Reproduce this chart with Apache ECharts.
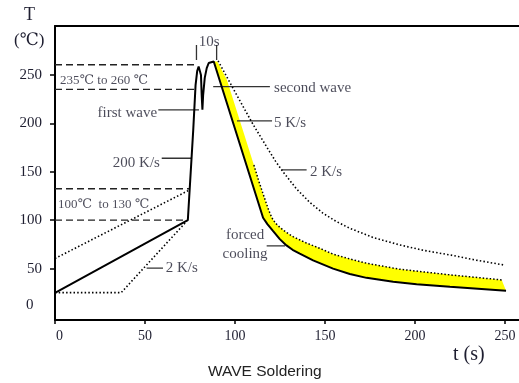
<!DOCTYPE html>
<html><head><meta charset="utf-8">
<script src="https://cdn.jsdelivr.net/npm/echarts@6/dist/echarts.min.js"></script>
<style>html,body{margin:0;padding:0;background:#fff}#c{width:519px;height:383px}</style>
</head><body><div id="c"></div>
<script>
// ---- data (t in s, T in °C) ----
const xTickValues = [0, 50, 100, 150, 200, 250];
const yTickValues = [50, 100, 150, 200, 250];

const heatingProfile = [[0,25],[73.8,100],[76.8,193],[78.1,239.5],[79.0,254],[79.8,258.7],[80.5,258.2],[81.1,250],[81.5,229],[81.9,214],[82.3,229],[83.2,247],[84.3,257],[85.4,262.3],[86.5,263.9]];
const coolingProfile = [[88.2,263.9],[115.6,102.5],[118,96],[121.1,89],[124.9,80.5],[128.6,74],[132,69.5],[136,65.5],[143.4,58.5],[154.5,50],[163.8,44.5],[173.1,40.5],[187.9,36.5],[200.9,34],[219.4,31.2],[250.6,27.3]];
const bandUpper = [[90.2,263.9],[95.5,245],[110.5,157],[113.3,140],[116.2,124],[118.6,111],[120.5,102.5],[122.5,97],[125,92.5],[128.5,87.5],[132.3,83],[139,77],[147.1,71],[154.5,65],[163.8,60],[173.1,55.6],[191.6,49.4],[219.4,43.6],[248.2,38.4]];
const slowCooling = [[90.6,264.5],[100,232.5],[110,199],[118.5,173],[122.5,161],[126.7,150],[134.1,132.5],[141.5,118.5],[148.9,107.2],[156,99],[163.8,91.7],[177,82],[191.6,74.5],[205,68.8],[219.4,64.2],[234,58.8],[249.1,53.9]];
const preheatFast = [[0,60.5],[74.5,131]];
const preheatSlow = [[0,25.3],[36.8,25.3],[73.2,99]];

const peakZoneLevels = [260.5, 235];
const peakZoneEnds = [77.5, 78.2];
const preheatZoneLevels = [132.5, 100];
const preheatZoneEnds = [74.5, 73.8];
const tenSecondMarks = [78.6, 89.8];
const tenSecondRange = [265.4, 281];

const leaderLines = [
  [[57.4,213.9],[80,213.9]],
  [[87.9,237.9],[119.4,237.9]],
  [[101.1,202.5],[120.6,202.5]],
  [[125.9,152],[139.8,152]],
  [[59.3,164],[75.9,164]],
  [[117.6,73.5],[127.8,73.5]],
  [[50.9,50.5],[60,50.5]]
];
const annotations = [
  {text:'235\u2103 to 260 \u2103', at:[2.8,243.8], align:'left', size:13},
  {text:'first wave', at:[56.7,210.5], align:'right', size:15},
  {text:'second wave', at:[121.7,236.5], align:'left', size:15},
  {text:'5 K/s', at:[121.7,200.4], align:'left', size:15},
  {text:'200 K/s', at:[58.3,158.5], align:'right', size:15},
  {text:'2 K/s', at:[141.7,149.8], align:'left', size:15},
  {text:'forced', at:[105.6,84.7], align:'center', size:15},
  {text:'cooling', at:[105.6,65], align:'center', size:15},
  {text:'100\u2103  to 130 \u2103', at:[1.7,115.7], align:'left', size:13},
  {text:'2 K/s', at:[61.5,50.3], align:'left', size:15},
  {text:'10s', at:[85.6,284], align:'center', size:15}
];

// ---- chart ----
const serif = '"Liberation Serif","Times New Roman","DejaVu Serif",serif';
const txt = '#1e1e30';
const chart = echarts.init(document.getElementById('c'), null, {renderer:'canvas'});

function line(data, type, width, z, color) {
  return {type:'line', data, symbol:'none', showSymbol:false, silent:true, animation:false, z:z,
    lineStyle:{color: color || '#000', width, type, cap:'butt'}};
}
const series = [];
// yellow band
series.push({type:'custom', z:1, silent:true, animation:false, data:[[0,0]],
  renderItem:(p, api) => {
    const pts = bandUpper.map(d => api.coord(d)).concat(coolingProfile.slice().reverse().map(d => api.coord(d)));
    return {type:'polygon', shape:{points:pts}, style:{fill:'#ffff00'}};
  }});
series.push(line(heatingProfile.concat(coolingProfile), 'solid', 2, 5));
series.push(line(bandUpper.filter(d => d[0] >= 108), [1.5,2], 1.5, 4));
series.push(line(slowCooling, [1.5,2.2], 1.6, 4));
series.push(line(preheatFast, [1.5,2.2], 1.6, 4));
series.push(line(preheatSlow, [1.5,2.2], 1.6, 4));
peakZoneLevels.forEach((v,i) => series.push(line([[0,v],[peakZoneEnds[i],v]], [7,4], 1.3, 3, '#222')));
preheatZoneLevels.forEach((v,i) => series.push(line([[0,v],[preheatZoneEnds[i],v]], [7,4], 1.3, 3, '#222')));
tenSecondMarks.forEach(t => series.push(line([[t,tenSecondRange[0]],[t,tenSecondRange[1]]], 'solid', 1.3, 3, '#333')));
leaderLines.forEach(s => series.push(line(s, 'solid', 1.3, 3, '#333')));
series.push({type:'scatter', symbolSize:0, silent:true, animation:false, z:6,
  data: annotations.map(a => ({value:a.at, label:{show:true, position:'inside', formatter:a.text, align:a.align,
    verticalAlign:'middle', fontFamily:serif, fontSize:a.size, color:txt}}))});

chart.setOption({
  animation:false,
  backgroundColor:'#fff',
  grid:{left:55, right:0, top:26, bottom:63, containLabel:false, outerBoundsMode:'none'},
  xAxis:[{type:'value', min:0, max:257.8, position:'bottom',
    axisLine:{onZero:false, lineStyle:{color:'#000', width:2}},
    axisTick:{show:true, length:4, customValues:xTickValues, lineStyle:{color:'#000', width:1.5}},
    axisLabel:{customValues:xTickValues, margin:9, fontSize:14, fontFamily:serif, color:txt,
      formatter:v => v === 0 ? '{z|0}' : String(v), rich:{z:{padding:[0,0,0,9], fontSize:14, fontFamily:serif, color:txt}}},
    splitLine:{show:false}},
   {type:'value', min:0, max:257.8, position:'top',
    axisLine:{show:true, onZero:false, lineStyle:{color:'#000', width:2}},
    axisTick:{show:false}, axisLabel:{show:false}, splitLine:{show:false}}],
  yAxis:{type:'value', min:-3, max:300.5,
    axisLine:{show:true, onZero:false, lineStyle:{color:'#000', width:2}},
    axisTick:{show:true, length:5, customValues:yTickValues, lineStyle:{color:'#000', width:1.5}},
    axisLabel:{customValues:yTickValues, margin:13, fontSize:15, fontFamily:serif, color:txt},
    splitLine:{show:false}},
  graphic:[
    {type:'text', left:24, top:6, style:{text:'T', font:'18px '+serif, fill:txt}},
    {type:'text', left:14, top:32, style:{text:'(\u2103)', font:'17px '+serif, fill:txt}},
    {type:'text', left:26, top:298, style:{text:'0', font:'15px '+serif, fill:txt}},
    {type:'text', left:453, top:345, style:{text:'t (s)', font:'20px '+serif, fill:txt}},
    {type:'text', left:208, top:364, style:{text:'WAVE Soldering', font:'15.5px "Liberation Sans",Arial,sans-serif', fill:'#222'}}
  ],
  series
});
</script></body></html>
